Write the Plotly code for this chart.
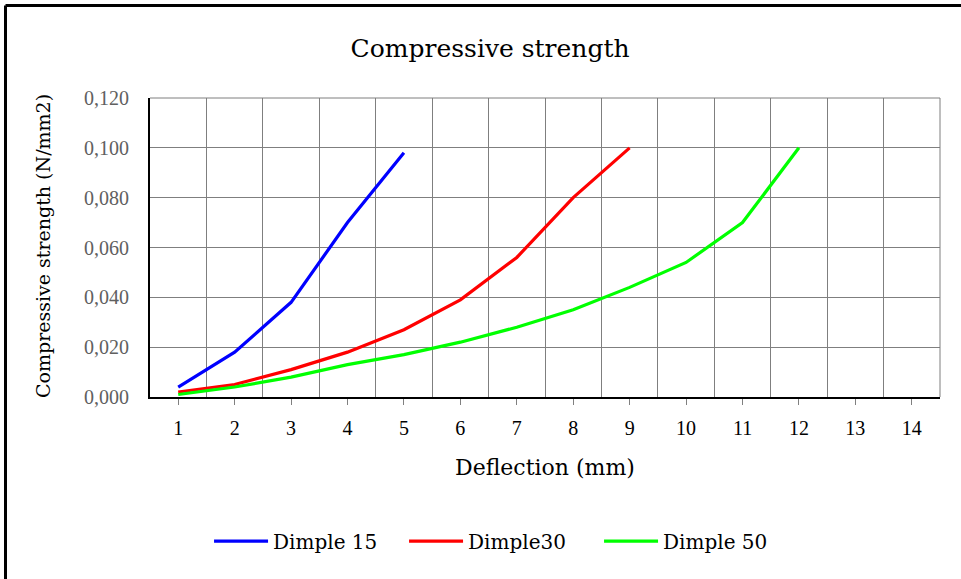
import plotly.graph_objects as go

deflection = [1, 2, 3, 4, 5, 6, 7, 8, 9, 10, 11, 12, 13, 14]
dimple15 = [0.004, 0.018, 0.038, 0.070, 0.098]
dimple30 = [0.002, 0.005, 0.011, 0.018, 0.027, 0.039, 0.056, 0.080, 0.100]
dimple50 = [0.001, 0.004, 0.008, 0.013, 0.017, 0.022, 0.028, 0.035, 0.044, 0.054, 0.070, 0.100]
y_ticks = [0.0, 0.02, 0.04, 0.06, 0.08, 0.10, 0.12]
y_labels = ["0,000", "0,020", "0,040", "0,060", "0,080", "0,100", "0,120"]

TXT = "DejaVu Serif"
NUM = "Liberation Serif"

fig = go.Figure()
for name, vals, col in [("Dimple 15", dimple15, "#0000FF"),
                        ("Dimple30", dimple30, "#FF0000"),
                        ("Dimple 50", dimple50, "#00FF00")]:
    fig.add_trace(go.Scatter(x=deflection[:len(vals)], y=vals, name=name,
                             mode="lines", line=dict(color=col, width=3.2)))

fig.update_layout(
    width=961, height=579,
    margin=dict(l=150, r=21, t=98, b=182),
    paper_bgcolor="white", plot_bgcolor="white",
    title=dict(text="Compressive strength", x=0.51, xanchor="center",
               y=1 - 48 / 579, yanchor="middle", yref="container",
               font=dict(family=TXT, size=25, color="black")),
    showlegend=True,
    legend=dict(orientation="h", x=0.445, xanchor="center", y=-0.482, yanchor="middle",
                font=dict(family=TXT, size=20, color="black"),
                entrywidth=126, itemwidth=54, bgcolor="rgba(0,0,0,0)"),
    xaxis=dict(range=[0.5, 14.5], tickvals=deflection, ticktext=[str(v) for v in deflection],
               showgrid=False, ticks="outside", ticklen=6, tickcolor="#808080",
               showline=True, linecolor="black", linewidth=2,
               ticklabelstandoff=6,
               tickfont=dict(family=NUM, size=20, color="black"),
               minor=dict(tick0=0.5, dtick=1, showgrid=True, gridcolor="#7f7f7f",
                          gridwidth=1, ticks=""),
               zeroline=False),
    yaxis=dict(range=[0, 0.12], tickvals=y_ticks, ticktext=y_labels,
               showgrid=True, gridcolor="#7f7f7f", gridwidth=1, ticks="",
               showline=True, linecolor="black", linewidth=2,
               ticklabelstandoff=15,
               tickfont=dict(family=NUM, size=20, color="#606060"),
               zeroline=False),
    annotations=[
        dict(text="Deflection (mm)", x=0.5, y=(397 - 467) / 299, xref="paper", yref="paper",
             xanchor="center", yanchor="middle", showarrow=False,
             font=dict(family=TXT, size=22, color="black")),
        dict(text="Compressive strength (N/mm2)", x=(43 - 150) / 790, y=0.505,
             xref="paper", yref="paper", xanchor="center", yanchor="middle",
             textangle=-90, showarrow=False,
             font=dict(family=TXT, size=19, color="black")),
    ],
    shapes=[
        dict(type="line", xref="paper", yref="paper", x0=0, x1=1, y0=1, y1=1,
             line=dict(color="#7f7f7f", width=1)),
        dict(type="line", xref="paper", yref="paper", x0=1, x1=1, y0=0, y1=1,
             line=dict(color="#7f7f7f", width=1)),
        dict(type="line", xref="paper", yref="paper", x0=(5.5 - 150) / 790, x1=1.1,
             y0=(397 - 5.5) / 299, y1=(397 - 5.5) / 299, line=dict(color="black", width=3)),
        dict(type="line", xref="paper", yref="paper", x0=(5.5 - 150) / 790, x1=(5.5 - 150) / 790,
             y0=(397 - 5.5) / 299, y1=-0.7, line=dict(color="black", width=3)),
    ],
)

fig.write_html("out.html", config={"displayModeBar": False},
               post_script="document.body.style.margin='0px';document.body.style.overflow='hidden';")
